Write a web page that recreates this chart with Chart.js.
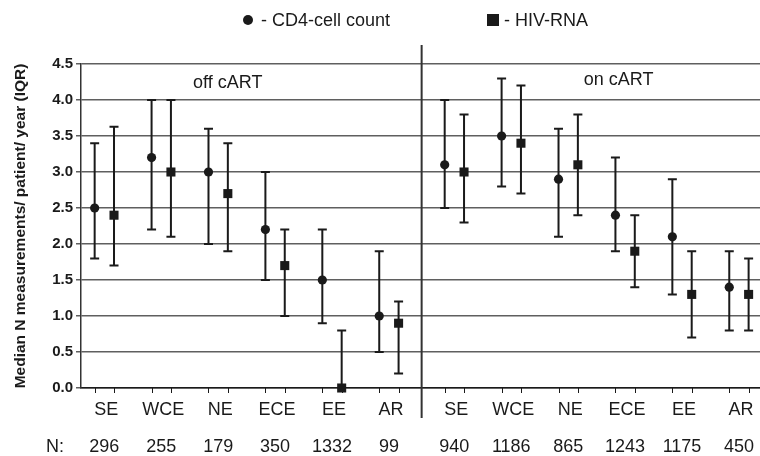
<!DOCTYPE html>
<html>
<head>
<meta charset="utf-8">
<script src="https://cdn.jsdelivr.net/npm/chart.js@4.4.1/dist/chart.umd.min.js"></script>
<style>
  html, body { margin: 0; padding: 0; background: #fff; }
  #wrap { width: 760px; height: 456px; }
</style>
</head>
<body>
<div id="wrap"><canvas id="c"></canvas></div>
<script>
// regions, left panel = off cART, right panel = on cART
var regions = ['SE', 'WCE', 'NE', 'ECE', 'EE', 'AR', 'SE', 'WCE', 'NE', 'ECE', 'EE', 'AR'];
var nPatients = ['296', '255', '179', '350', '1332', '99', '940', '1186', '865', '1243', '1175', '450'];
var panels = ['off cART', 'on cART'];

// CD4-cell count: median, lower IQR, upper IQR
var cd4Median = [2.5, 3.2, 3.0, 2.2, 1.5, 1.0, 3.1, 3.5, 2.9, 2.4, 2.1, 1.4];
var cd4Low    = [1.8, 2.2, 2.0, 1.5, 0.9, 0.5, 2.5, 2.8, 2.1, 1.9, 1.3, 0.8];
var cd4High   = [3.4, 4.0, 3.6, 3.0, 2.2, 1.9, 4.0, 4.3, 3.6, 3.2, 2.9, 1.9];

// HIV-RNA: median, lower IQR, upper IQR
var rnaMedian = [2.4, 3.0, 2.7, 1.7, 0.0, 0.9, 3.0, 3.4, 3.1, 1.9, 1.3, 1.3];
var rnaLow    = [1.7, 2.1, 1.9, 1.0, 0.0, 0.2, 2.3, 2.7, 2.4, 1.4, 0.7, 0.8];
var rnaHigh   = [3.63, 4.0, 3.4, 2.2, 0.8, 1.2, 3.8, 4.2, 3.8, 2.4, 1.9, 1.8];

var yTicks = [0, 0.5, 1, 1.5, 2, 2.5, 3, 3.5, 4, 4.5];

var INK = '#1a1a1a';
var FONT = '"Liberation Sans", Arial, sans-serif';
var PAIR = 0.17;      // half distance between circle and square in a region
var PANEL_GAP = 0.15; // extra space between the two panels

function groupPos(i) {
    return i + (i >= 6 ? PANEL_GAP : 0);
}

function makePoints(values, shift, low, high) {
    return values.map(function(v, i) {
        return { x: groupPos(i) + shift, y: v, lo: low[i], hi: high[i] };
    });
}

var errorBars = {
    id: 'errorBars',
    beforeDatasetsDraw: function(chart) {
        var ctx = chart.ctx;
        var xs = chart.scales.x, ys = chart.scales.y;
        ctx.save();
        ctx.strokeStyle = INK;
        ctx.lineWidth = 2;
        chart.data.datasets.forEach(function(ds) {
            ds.data.forEach(function(p) {
                var px = xs.getPixelForValue(p.x);
                var top = ys.getPixelForValue(p.hi);
                var bot = ys.getPixelForValue(p.lo);
                ctx.beginPath();
                ctx.moveTo(px, top); ctx.lineTo(px, bot);
                ctx.moveTo(px - 4.5, top); ctx.lineTo(px + 4.5, top);
                if (p.lo > 0) { ctx.moveTo(px - 4.5, bot); ctx.lineTo(px + 4.5, bot); }
                ctx.stroke();
            });
        });
        ctx.restore();
    }
};

var decorations = {
    id: 'decorations',
    afterDraw: function(chart) {
        var ctx = chart.ctx;
        var xs = chart.scales.x, ys = chart.scales.y;
        var area = chart.chartArea;
        ctx.save();

        // small tick marks under the axis at each marker
        ctx.strokeStyle = INK;
        ctx.lineWidth = 1;
        chart.data.datasets.forEach(function(ds) {
            ds.data.forEach(function(p) {
                var px = Math.round(xs.getPixelForValue(p.x)) + 0.5;
                ctx.beginPath();
                ctx.moveTo(px, area.bottom); ctx.lineTo(px, area.bottom + 5);
                ctx.stroke();
            });
        });

        // divider between panels
        var dx = xs.getPixelForValue((groupPos(5) + groupPos(6)) / 2);
        ctx.lineWidth = 2;
        ctx.strokeStyle = '#333';
        ctx.beginPath();
        ctx.moveTo(dx, 45); ctx.lineTo(dx, 418);
        ctx.stroke();

        // region labels and N row
        ctx.fillStyle = INK;
        ctx.textAlign = 'center';
        ctx.textBaseline = 'middle';
        ctx.font = '18px ' + FONT;
        regions.forEach(function(r, i) {
            var cx = xs.getPixelForValue(groupPos(i)) + 2;
            ctx.fillText(r, cx, 410);
            ctx.fillText(nPatients[i], xs.getPixelForValue(groupPos(i)), 447);
        });
        ctx.textAlign = 'left';
        ctx.fillText('N:', 46, 447);

        // panel labels
        ctx.font = '18px ' + FONT;
        ctx.textAlign = 'center';
        ctx.fillText(panels[0], xs.getPixelForValue((groupPos(1) + groupPos(2)) / 2) + 38, ys.getPixelForValue(4.24));
        ctx.fillText(panels[1], xs.getPixelForValue((groupPos(8) + groupPos(9)) / 2) + 22, ys.getPixelForValue(4.28));

        // legend
        ctx.font = '18px ' + FONT;
        ctx.textAlign = 'left';
        ctx.beginPath();
        ctx.arc(248, 20, 5, 0, Math.PI * 2);
        ctx.fill();
        ctx.fillText('- CD4-cell count', 261, 21);
        ctx.fillRect(487, 14, 12, 12);
        ctx.fillText('- HIV-RNA', 504, 21);

        ctx.restore();
    }
};

new Chart(document.getElementById('c'), {
    type: 'scatter',
    data: {
        datasets: [{
            label: 'CD4-cell count',
            data: makePoints(cd4Median, -PAIR, cd4Low, cd4High),
            pointStyle: 'circle',
            pointRadius: 4.6,
            backgroundColor: INK,
            borderColor: INK,
            borderWidth: 0,
            clip: false
        }, {
            label: 'HIV-RNA',
            data: makePoints(rnaMedian, PAIR, rnaLow, rnaHigh),
            pointStyle: 'rect',
            pointRadius: 6.4,
            backgroundColor: INK,
            borderColor: INK,
            borderWidth: 0,
            clip: false
        }]
    },
    options: {
        responsive: true,
        maintainAspectRatio: false,
        animation: false,
        layout: { autoPadding: false, padding: { top: 64, right: 0, left: 0, bottom: 0 } },
        plugins: {
            legend: { display: false },
            tooltip: { enabled: false }
        },
        scales: {
            x: {
                type: 'linear',
                min: -0.41,
                max: 11.52,
                grid: { display: false },
                border: { color: INK, width: 1.5 },
                ticks: { display: false },
                afterFit: function(s) { s.height = 68; }
            },
            y: {
                min: 0,
                max: 4.5,
                afterBuildTicks: function(s) {
                    s.ticks = yTicks.map(function(v) { return { value: v }; });
                },
                ticks: {
                    padding: 3,
                    color: INK,
                    font: { family: FONT, size: 15, weight: 'bold' },
                    callback: function(v) { return v.toFixed(1); }
                },
                grid: { color: '#5f5f5f', lineWidth: 1.5, tickLength: 5 },
                border: { color: '#333', width: 1.5 },
                title: {
                    display: true,
                    text: 'Median N measurements/ patient/ year (IQR)',
                    color: INK,
                    font: { family: FONT, size: 15.5, weight: 'bold' },
                    padding: { top: 11, bottom: 0 }
                },
                afterFit: function(s) { s.width = 81; }
            }
        }
    },
    plugins: [errorBars, decorations]
});
</script>
</body>
</html>
